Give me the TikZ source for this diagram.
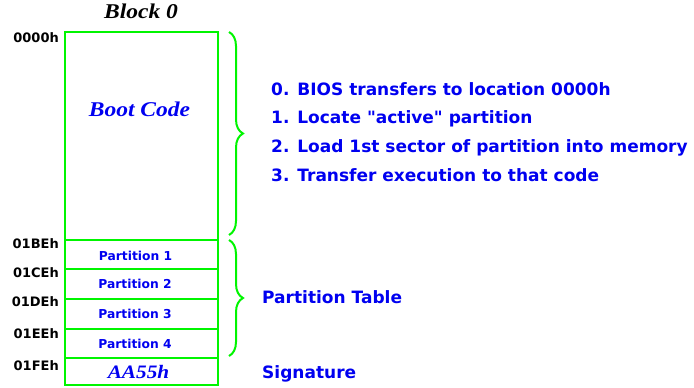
\documentclass[tikz,border=0pt]{standalone}
\usepackage{fontspec}
\setsansfont{DejaVu Sans}[Ligatures=TeXOff]
\newfontfamily\sbifont{Liberation Serif}[FakeStretch=1.12]
\usetikzlibrary{decorations.pathreplacing}
\definecolor{lgreen}{RGB}{0,245,0}
\definecolor{tblue}{RGB}{0,0,240}
\begin{document}
\begin{tikzpicture}[x=1pt,y=-1pt,
  cell/.style={draw=lgreen,line width=2.5pt,minimum width=153pt,inner sep=0pt,outer sep=0pt,anchor=north west},
  plabel/.style={inner sep=0pt,text height=9pt,text depth=0pt,text=tblue,font=\sffamily\bfseries\fontsize{12.3}{14}\selectfont},
  addr/.style={anchor=east,inner sep=0pt,text height=9.4pt,text depth=0pt,font=\sffamily\bfseries\fontsize{13}{15}\selectfont},
  stepline/.style={anchor=west,inner sep=0pt,text height=12.4pt,text depth=0pt,text=tblue,font=\sffamily\bfseries\fontsize{17}{20}\selectfont},
  serifbi/.style={inner sep=0pt,text height=13.9pt,text depth=0pt,font=\sbifont\bfseries\itshape\fontsize{21}{24}\selectfont},
  bracestyle/.style={draw=lgreen,line width=2pt,decorate,decoration={brace,amplitude=14pt}}]
\useasboundingbox (0,0) rectangle (694,388);
% cells
\node[cell,minimum height=208pt] (boot) at (65,32) {};
\node[cell,minimum height=29pt] (p1) at (65,240) {};
\node[cell,minimum height=30pt] (p2) at (65,269) {};
\node[cell,minimum height=30pt] (p3) at (65,299) {};
\node[cell,minimum height=29pt] (p4) at (65,329) {};
\node[cell,minimum height=27pt] (sig) at (65,358) {};
% cell labels
\node[plabel] (p1l) at (135.5,255.5) {Partition 1};
\node[plabel] (p2l) at (135,284) {Partition 2};
\node[plabel] (p3l) at (135,314) {Partition 3};
\node[plabel] (p4l) at (135,343.5) {Partition 4};
\node[serifbi,text=tblue,text height=12.6pt,font=\sbifont\bfseries\itshape\fontsize{19}{20}\selectfont] (sigl) at (138.5,372) {AA55h};
% titles
\node[serifbi] (title) at (141,12) {Block 0};
\node[serifbi,text=tblue] (bootlbl) at (139.5,110) {Boot Code};
% addresses
\node[addr] (a0) at (59,38) {0000h};
\node[addr] (a1) at (59,244) {01BEh};
\node[addr] (a2) at (59,273) {01CEh};
\node[addr] (a3) at (59,302) {01DEh};
\node[addr] (a4) at (59,334) {01EEh};
\node[addr] (a5) at (59,366) {01FEh};
% braces
\coordinate (b1s) at (229,32);
\coordinate (b1e) at (229,235);
\coordinate (b2s) at (229,240);
\coordinate (b2e) at (229,356);
\draw[bracestyle] (b1s) -- (b1e);
\draw[bracestyle] (b2s) -- (b2e);
% step texts
\node[stepline] (s0) at (271,89) {0. BIOS transfers to location 0000h};
\node[stepline] (s1) at (271,117) {1. Locate "active" partition};
\node[stepline] (s2) at (271,146) {2. Load 1st sector of partition into memory};
\node[stepline] (s3) at (271,175) {3. Transfer execution to that code};
\node[stepline] (pt) at (262,297) {Partition Table};
\node[stepline] (sg) at (262,372) {Signature};
\end{tikzpicture}
\end{document}
